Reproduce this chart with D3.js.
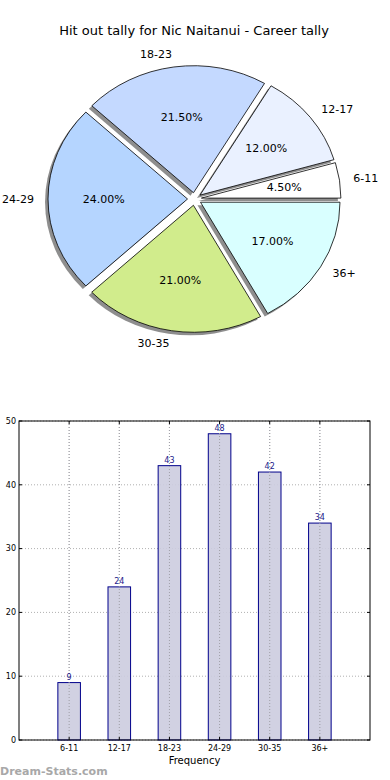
<!DOCTYPE html>
<html><head><meta charset="utf-8">
<script src="https://cdn.jsdelivr.net/npm/d3@7"></script>
<style>body{margin:0;background:#fff}svg{display:block}text{font-family:"DejaVu Sans",sans-serif}</style>
</head><body>
<svg id="c" width="390" height="780"></svg>
<script>
const title = "Hit out tally for Nic Naitanui - Career tally";
const categories = ["6-11","12-17","18-23","24-29","30-35","36+"];
const counts = [9,24,43,48,42,34];
const percents = [4.5,12.0,21.5,24.0,21.0,17.0];
const sliceColors = ["#ffffff","#eaf1ff","#c4d9ff","#b5d5ff","#d1ec8c","#d9ffff"];
const yTicks = [0,10,20,30,40,50];
const xLabel = "Frequency";
const watermark = "Dream-Stats.com";

const svg = d3.select("#c");
svg.append("text").attr("x",194).attr("y",35).attr("text-anchor","middle")
  .attr("font-size",13).attr("fill","#000").text(title);

// ---- Pie (slightly elliptical, as in reference) ----
const cx = 194.5, cy = 199, R = 139.5, sy = 127/139.5, ex = 0.05*R;
const pie = d3.pie().sort(null).startAngle(Math.PI/2).endAngle(Math.PI/2 - 2*Math.PI);
const arcs = pie(percents);
const arc = d3.arc().innerRadius(0).outerRadius(R);
const gp = svg.append("g");
function off(d, k){ const a=(d.startAngle+d.endAngle)/2; return [Math.sin(a)*k, -Math.cos(a)*k*sy]; }
arcs.forEach((d,i)=>{
  const [ox,oy]=off(d,ex);
  gp.append("path").attr("d",arc(d)).attr("transform",`translate(${cx+ox-3},${cy+oy+3}) scale(1,${sy})`)
    .attr("fill","#7a7a7a").attr("opacity",0.85);
});
arcs.forEach((d,i)=>{
  const [ox,oy]=off(d,ex);
  gp.append("path").attr("d",arc(d)).attr("transform",`translate(${cx+ox},${cy+oy}) scale(1,${sy})`)
    .attr("fill",sliceColors[i]).attr("stroke","#000").attr("stroke-width",0.8)
    .attr("vector-effect","non-scaling-stroke");
});
arcs.forEach((d,i)=>{
  const [ox,oy]=off(d,ex);
  const [px,py]=off(d,0.6*R);
  gp.append("text").attr("x",cx+ox+px).attr("y",cy+oy+py).attr("dy","0.35em")
    .attr("text-anchor","middle").attr("font-size",11).text(percents[i].toFixed(2)+"%");
  const [lx,ly]=off(d,1.1*R);
  gp.append("text").attr("x",cx+ox+lx).attr("y",cy+oy+ly).attr("dy","0.35em")
    .attr("text-anchor", lx>0?"start":"end").attr("font-size",11).text(categories[i]);
});

// ---- Bars ----
const L=19, Rr=370, T=421, B=740;
const x = d3.scaleLinear().domain([-1,6]).range([L,Rr]);
const y = d3.scaleLinear().domain([0,50]).range([B,T]);
const gb = svg.append("g");
yTicks.forEach(t=>{
  gb.append("line").attr("x1",L).attr("x2",Rr).attr("y1",y(t)).attr("y2",y(t))
    .attr("stroke","#b0b0b0").attr("stroke-width",1).attr("stroke-dasharray","1,2");
});
categories.forEach((c,i)=>{
  gb.append("line").attr("x1",x(i)).attr("x2",x(i)).attr("y1",T).attr("y2",B)
    .attr("stroke","#b0b0b0").attr("stroke-width",1).attr("stroke-dasharray","1,2");
});
const bw = 0.45;
counts.forEach((v,i)=>{
  gb.append("rect").attr("x",x(i-bw/2)).attr("y",y(v)).attr("width",x(bw)-x(0)).attr("height",y(0)-y(v))
    .attr("fill","#ccccdf").attr("fill-opacity",0.9).attr("stroke","#00008b").attr("stroke-width",1);
});
categories.forEach((c,i)=>{
  gb.append("line").attr("x1",x(i)).attr("x2",x(i)).attr("y1",T).attr("y2",B)
    .attr("stroke","#a0a0a8").attr("stroke-width",1).attr("stroke-dasharray","1,2");
});
counts.forEach((v,i)=>{
  gb.append("text").attr("x",x(i)).attr("y",y(v)-3).attr("text-anchor","middle")
    .attr("font-size",8).attr("fill","#1a1a8c").text(v);
});
gb.append("rect").attr("x",L).attr("y",T).attr("width",Rr-L).attr("height",B-T)
  .attr("fill","none").attr("stroke","#000").attr("stroke-width",1);
yTicks.forEach(t=>{
  gb.append("line").attr("x1",L).attr("x2",L+3).attr("y1",y(t)).attr("y2",y(t)).attr("stroke","#000");
  gb.append("line").attr("x1",Rr-3).attr("x2",Rr).attr("y1",y(t)).attr("y2",y(t)).attr("stroke","#000");
  gb.append("text").attr("x",L-3).attr("y",y(t)).attr("dy","0.35em").attr("text-anchor","end")
    .attr("font-size",8).attr("fill","#000").text(t);
});
categories.forEach((c,i)=>{
  gb.append("line").attr("x1",x(i)).attr("x2",x(i)).attr("y1",B).attr("y2",B-3).attr("stroke","#000");
  gb.append("line").attr("x1",x(i)).attr("x2",x(i)).attr("y1",T).attr("y2",T+3).attr("stroke","#000");
  gb.append("text").attr("x",x(i)).attr("y",B+11).attr("text-anchor","middle")
    .attr("font-size",8).attr("fill","#000").text(c);
});
gb.append("text").attr("x",(L+Rr)/2).attr("y",764).attr("text-anchor","middle")
  .attr("font-size",10).attr("fill","#000").text(xLabel);
svg.append("text").attr("x",0).attr("y",775).attr("font-size",11).attr("font-weight","bold")
  .attr("fill","#a8a8a8").text(watermark);
</script>
</body></html>
